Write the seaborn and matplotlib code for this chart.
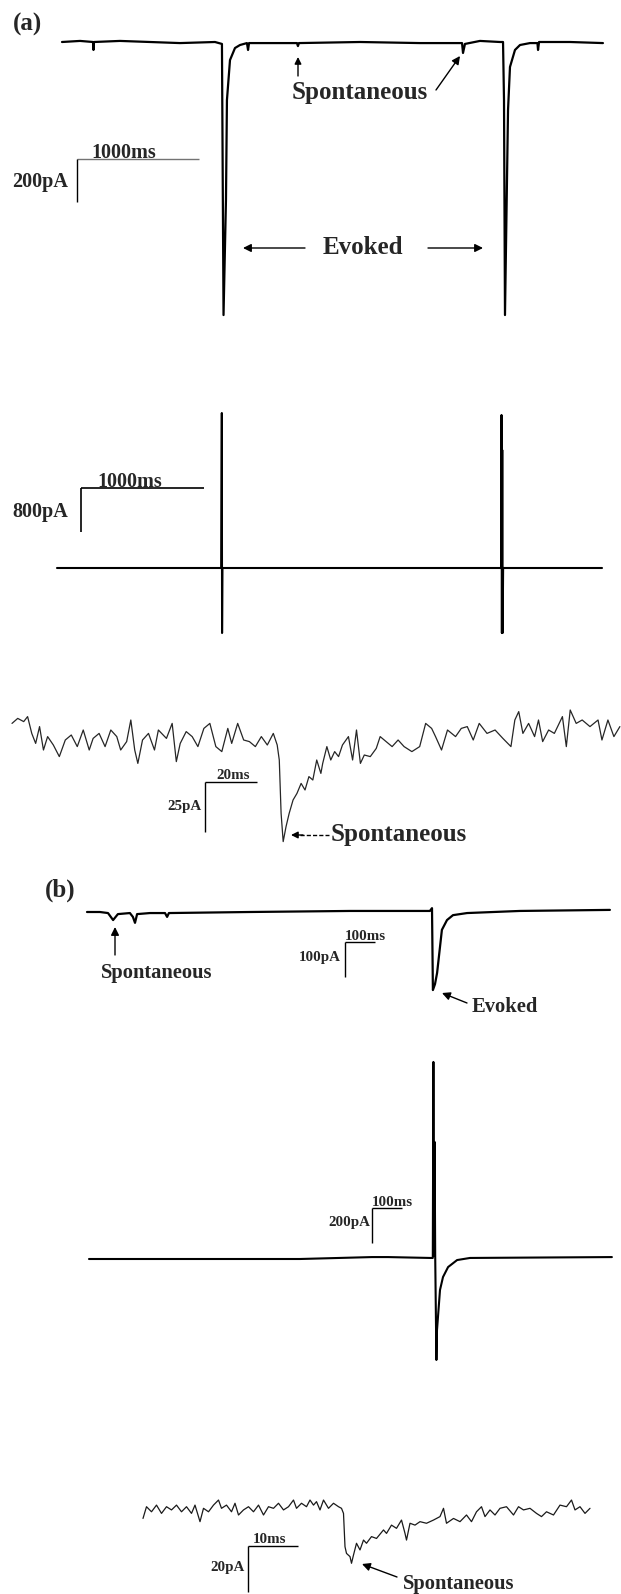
import matplotlib
matplotlib.use("Agg")
import matplotlib.pyplot as plt
import matplotlib.transforms as mtransforms
from matplotlib.patches import FancyArrowPatch
from matplotlib.lines import Line2D
import pandas as pd
import seaborn as sns

# ---- data (time in ms, current in pA, 0 = baseline) ----
# (a) top: two evoked EPSCs with spontaneous events in between
a1_time = [0, 148, 254, 258, 262, 475, 721, 967, 1254, 1311, 1324, 1344, 1352, 1377,
           1418, 1459, 1516, 1525, 1533, 1926, 1934, 1942, 2443, 2934, 3221, 3279,
           3287, 3303, 3426, 3590, 3615, 3623, 3631, 3656, 3672, 3713, 3754, 3836,
           3897, 3902, 3910, 4164, 4434]
a1_curr = [0, 5, 0, -37, 0, 5, 0, -5, 0, -9, -1270, -735, -270, -84,
           -28, -14, -5, -37, -5, -5, -19, -5, 0, -5, -5, -5,
           -51, -9, 5, 0, 0, -270, -1270, -316, -116, -37, -14, -5,
           -5, -37, 0, 0, -5]

# (a) middle: stimulus artefacts only
a2_time = [0, 1335, 1340, 1342, 1345, 3610, 3614, 3617, 3620, 3623, 3627, 4431]
a2_curr = [0, 0, 2818, -1182, 0, 0, 2782, -1182, 2145, -1182, 0, 0]

# (a) bottom: single spontaneous event, expanded
a3_time = [0, 2.2, 4.5, 6.0, 7.6, 9.1, 10.6, 12.1, 13.7, 15.9,
           18.2, 20.5, 22.8, 25.1, 27.4, 29.7, 31.2, 33.5, 35.8, 38.0,
           40.3, 41.8, 44.1, 45.7, 47.2, 48.4, 50.2, 52.5, 54.8, 56.3,
           59.4, 61.6, 63.2, 64.7, 67.0, 69.3, 71.5, 73.8, 76.1, 78.4,
           80.7, 83.0, 84.5, 86.8, 89.1, 91.3, 93.6, 95.9, 98.2, 100.5,
           102.0, 102.8, 103.5, 104.3, 105.4, 106.6, 108.1, 109.6, 111.2, 112.7,
           114.2, 115.7, 117.2, 118.8, 119.5, 121.1, 122.6, 124.1, 125.6, 127.1,
           129.4, 131.0, 132.5, 134.0, 135.5, 137.8, 140.1, 141.6, 143.9, 146.2,
           148.5, 150.8, 153.8, 156.8, 159.1, 161.4, 162.9, 165.2, 167.5, 170.6,
           172.8, 175.1, 177.4, 179.7, 182.7, 185.8, 188.8, 191.9, 193.4, 194.9,
           196.5, 198.7, 201.0, 202.5, 204.1, 206.4, 208.6, 211.7, 213.2, 214.7,
           217.0, 219.3, 222.3, 225.4, 226.9, 229.2, 231.5, 233.8]
a3_curr = [9.8, 12.3, 10.7, 13.2, 4.8, -0.2, 8.2, -3.5, 3.2, -1.0,
           -6.8, 1.5, 4.0, -1.8, 6.5, -3.5, 2.3, 4.8, -1.8, 6.5,
           3.2, -3.5, 0.7, 11.5, -3.5, -10.2, 1.5, 4.8, -3.5, 6.5,
           2.3, 9.8, -9.3, -0.2, 5.7, 3.2, -1.8, 7.3, 9.8, -1.8,
           -4.3, 7.3, -0.2, 9.8, 1.5, 0.7, -1.8, 3.2, -1.0, 4.8,
           -1.0, -8.5, -35.2, -49.3, -41.8, -35.2, -28.5, -25.2, -20.2, -23.5,
           -16.8, -18.5, -8.5, -15.2, -10.2, -1.8, -8.5, -4.3, -6.8, -1.0,
           3.2, -8.5, 6.5, -10.2, -6.0, -6.8, -2.7, 3.2, 0.7, -1.8,
           1.5, -1.8, -4.3, -1.8, 9.8, 7.3, 3.2, -3.5, 6.5, 3.2,
           7.3, 8.2, 1.5, 9.8, 4.8, 6.5, 2.3, -1.8, 11.5, 15.7,
           4.8, 9.8, 3.2, 11.5, 0.7, 6.5, 4.8, 13.2, -1.8, 16.5,
           9.8, 11.5, 8.2, 11.5, 1.5, 11.5, 3.2, 8.2]

# (b) top: spontaneous + evoked
b1_time = [0, 43, 70, 87, 103, 143, 153, 160, 167, 210, 260, 267, 273, 543, 877,
           1143, 1150, 1153, 1160, 1167, 1183, 1200, 1220, 1267, 1443, 1743]
b1_curr = [0, 0, -3, -23, -6, -3, -14, -31, -6, -3, -3, -14, -3, 0, 3,
           3, 11, -223, -206, -174, -51, -23, -9, -3, 3, 6]

# (b) middle: artefact + evoked
b2_time = [0, 703, 943, 997, 1137, 1146, 1148, 1150, 1152, 1154, 1158, 1160,
           1170, 1180, 1197, 1227, 1270, 1743]
b2_curr = [0, 0, 11, 11, 6, 6, 1126, 20, 669, 20, -577, -406,
           -177, -103, -46, -6, 6, 11]

# (b) bottom: single spontaneous event, expanded
b3_time = [0, 0.7, 1.7, 2.7, 3.7, 4.7, 5.7, 6.7, 7.7, 8.7,
           9.7, 10.4, 11.4, 12.1, 13.1, 14.1, 15.1, 15.7, 16.7, 17.7,
           18.4, 19.1, 20.1, 21.1, 22.1, 23.1, 24.1, 25.1, 26.1, 27.1,
           28.1, 29.1, 30.1, 30.7, 31.7, 32.7, 33.4, 34.1, 34.7, 35.4,
           36.1, 37.1, 38.1, 39.1, 39.7, 40.1, 40.4, 40.7, 41.4, 41.7,
           42.1, 42.7, 43.4, 44.1, 44.7, 45.7, 46.7, 48.1, 48.7, 49.7,
           50.7, 51.7, 52.4, 52.7, 53.4, 54.4, 55.4, 56.7, 58.1, 59.4,
           60.1, 60.7, 62.1, 63.4, 64.7, 65.7, 66.7, 67.7, 68.4, 69.4,
           70.4, 71.4, 72.7, 74.1, 75.1, 76.1, 77.4, 78.7, 79.7, 80.7,
           82.1, 83.4, 84.7, 85.7, 86.4, 87.4, 88.4, 89.4]
b3_curr = [-2.8, 2.3, 0.1, 3.0, -0.6, 2.3, 0.9, 3.0, 0.1, 2.3,
           -0.6, 3.0, -4.2, 1.6, 0.1, 3.0, 5.2, 1.6, 3.0, 0.1,
           3.8, -1.3, 0.9, 2.3, 0.1, 3.0, -1.3, 2.3, 1.6, 3.8,
           0.9, 2.3, 5.2, 1.6, 3.8, 2.3, 5.2, 3.0, 4.5, 0.9,
           5.2, 1.6, 3.8, 2.3, 1.6, -0.6, -15.1, -18.0, -19.4, -22.3,
           -18.7, -13.6, -16.5, -12.2, -13.6, -10.7, -11.5, -7.8, -9.3, -5.7,
           -7.1, -3.5, -9.3, -12.2, -4.9, -5.7, -4.2, -4.9, -3.5, -2.0,
           1.6, -4.9, -2.8, -4.2, -1.3, -4.2, 0.1, 2.3, -2.0, 0.9,
           -1.3, 1.6, 2.3, -1.3, 2.3, 0.9, 1.6, -0.6, -2.0, 0.1,
           -1.3, 3.0, 2.3, 5.2, 0.9, 2.3, -0.6, 1.6]

# ---- layout: pixel band of each panel and its calibration (px per ms / per pA) ----
W, H = 621, 1594
panels = {
    "a1": dict(band=(0, 330), x0=62, y0=42, sx=0.122, sy=0.215, lw=1.6, color="k"),
    "a2": dict(band=(330, 650), x0=57, y0=568, sx=0.123, sy=0.055, lw=1.5, color="k"),
    "a3": dict(band=(650, 860), x0=12, y0=743, sx=2.6, sy=2.0, lw=0.9, color="0.15"),
    "b1": dict(band=(860, 1030), x0=87, y0=912, sx=0.3, sy=0.35, lw=1.6, color="k"),
    "b2": dict(band=(1030, 1400), x0=89, y0=1259, sx=0.3, sy=0.175, lw=1.5, color="k"),
    "b3": dict(band=(1400, 1594), x0=143, y0=1512, sx=5.0, sy=2.3, lw=0.9, color="0.1"),
}
traces = {
    "a1": (a1_time, a1_curr), "a2": (a2_time, a2_curr), "a3": (a3_time, a3_curr),
    "b1": (b1_time, b1_curr), "b2": (b2_time, b2_curr), "b3": (b3_time, b3_curr),
}

sns.set_style("white")
plt.rcParams["font.family"] = ["Liberation Serif", "DejaVu Serif"]
plt.rcParams["font.weight"] = "bold"

fig = plt.figure(figsize=(W / 100, H / 100), dpi=100)
px = mtransforms.Affine2D().scale(1 / W, -1 / H).translate(0, 1) + fig.transFigure

axes = {}
for name, p in panels.items():
    top, bot = p["band"]
    ax = fig.add_axes([0, 1 - bot / H, 1, (bot - top) / H])
    t, i = traces[name]
    df = pd.DataFrame({"time": t, "current": i})
    sns.lineplot(data=df, x="time", y="current", sort=False, estimator=None,
                 color=p["color"], lw=p["lw"], ax=ax)
    ax.set_xlim(-p["x0"] / p["sx"], (W - p["x0"]) / p["sx"])
    ax.set_ylim((p["y0"] - bot) / p["sy"], (p["y0"] - top) / p["sy"])
    ax.axis("off")
    axes[name] = ax


def scale_bar(name, cx, cy, dt, di, hcolor="k", lw=1.0):
    p, ax = panels[name], axes[name]
    t0 = (cx - p["x0"]) / p["sx"]
    i0 = (p["y0"] - cy) / p["sy"]
    ax.plot([t0, t0 + dt], [i0, i0], color=hcolor, lw=lw, solid_capstyle="butt")
    ax.plot([t0, t0], [i0, i0 - di], color="k", lw=lw, solid_capstyle="butt")


def label(x, y, s, size, ha="left", va="center"):
    fig.text(x, y, s, transform=px, fontsize=size, fontweight="bold", ha=ha, va=va)


def arrow(tail, head, lw=1.0, ms=12):
    fig.add_artist(FancyArrowPatch(posA=tail, posB=head, transform=px,
                                   arrowstyle="-|>", mutation_scale=ms, lw=lw,
                                   color="k", shrinkA=0, shrinkB=0))


# (a) top
label(28, 24, "(a)", 18, ha="center")
scale_bar("a1", 77, 159, 1000, 200, hcolor="0.45")
label(91, 158, "1000ms", 14.5, va="baseline")
label(12, 182, "200pA", 14.5)
label(360, 93, "Spontaneous", 18, ha="center")
arrow((298, 76), (298, 57), ms=10)
arrow((436, 90), (460, 56))
label(363, 248, "Evoked", 18, ha="center")
arrow((305, 248), (243, 248))
arrow((428, 248), (483, 248))

# (a) middle
scale_bar("a2", 81, 488, 1000, 800, lw=1.2)
label(97, 487, "1000ms", 14.5, va="baseline")
label(12, 512, "800pA", 14.5)

# (a) bottom
scale_bar("a3", 205, 782, 20, 25)
label(216, 779, "20ms", 10.8, va="baseline")
label(202, 807, "25pA", 10.8, ha="right")
fig.add_artist(Line2D([300, 329], [835, 835], transform=px, color="k", lw=1.0,
                      linestyle=(0, (3, 1.5))))
arrow((303, 835), (291, 835), ms=10)
label(331, 835, "Spontaneous", 18)

# (b) top
label(60, 890, "(b)", 18, ha="center")
arrow((115, 955), (115, 927))
label(157, 973, "Spontaneous", 14.8, ha="center")
scale_bar("b1", 345, 942, 100, 100)
label(345, 940, "100ms", 10.8, va="baseline")
label(341, 958, "100pA", 10.8, ha="right")
arrow((467, 1003), (442, 993))
label(472, 1007, "Evoked", 14.8)

# (b) middle
scale_bar("b2", 372, 1208, 100, 200)
label(372, 1206, "100ms", 10.8, va="baseline")
label(370, 1223, "200pA", 10.8, ha="right")

# (b) bottom
scale_bar("b3", 248, 1546, 10, 20)
label(253, 1543, "10ms", 10.8, va="baseline")
label(245, 1568, "20pA", 10.8, ha="right")
arrow((397, 1577), (362, 1564))
label(403, 1584, "Spontaneous", 14.8)

fig.savefig("out.png", dpi=100, facecolor="white")
